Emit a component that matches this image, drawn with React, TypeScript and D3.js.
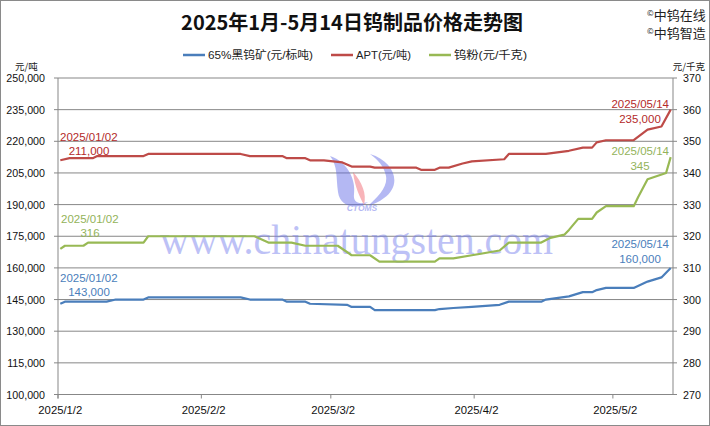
import React from "react";
import * as d3 from "d3";

const W = 710;
const H = 426;

const leftTicks = [100000, 115000, 130000, 145000, 160000, 175000, 190000, 205000, 220000, 235000, 250000];
const rightTicks = [270, 280, 290, 300, 310, 320, 330, 340, 350, 360, 370];
const xTickDates = ["2025-01-02", "2025-02-02", "2025-03-02", "2025-04-02", "2025-05-02"];
const xTickLabels = ["2025/1/2", "2025/2/2", "2025/3/2", "2025/4/2", "2025/5/2"];

const aptDates = ["2025-01-02","2025-01-04","2025-01-09","2025-01-10","2025-01-20","2025-01-21","2025-02-10","2025-02-12","2025-02-19","2025-02-20","2025-02-24","2025-02-25","2025-02-28","2025-03-02","2025-03-04","2025-03-06","2025-03-10","2025-03-11","2025-03-20","2025-03-21","2025-03-24","2025-03-25","2025-03-27","2025-03-30","2025-04-01","2025-04-08","2025-04-09","2025-04-17","2025-04-22","2025-04-25","2025-04-27","2025-04-28","2025-04-30","2025-05-06","2025-05-09","2025-05-12","2025-05-14"];
const aptValues = [211000,212000,212000,213000,213000,214000,214000,213000,213000,212000,212000,211000,211000,210500,210000,208000,208000,207500,207500,206500,206500,207500,207500,209500,210500,211500,214000,214000,215500,217000,217000,219500,220500,220500,225500,227000,235000];

const oreDates = ["2025-01-02","2025-01-03","2025-01-12","2025-01-14","2025-01-20","2025-01-21","2025-02-10","2025-02-12","2025-02-19","2025-02-20","2025-02-24","2025-02-25","2025-03-05","2025-03-06","2025-03-10","2025-03-11","2025-03-24","2025-03-25","2025-03-28","2025-04-01","2025-04-07","2025-04-09","2025-04-16","2025-04-17","2025-04-22","2025-04-25","2025-04-27","2025-04-28","2025-04-30","2025-05-06","2025-05-09","2025-05-12","2025-05-14"];
const oreValues = [143000,144000,144000,145000,145000,146000,146000,145000,145000,144000,144000,143000,142500,141500,141500,140000,140000,140500,141000,141500,142500,144000,144000,145000,146500,148500,148500,149500,150500,150500,153500,155500,160000];

const powderDates = ["2025-01-02","2025-01-03","2025-01-07","2025-01-08","2025-01-20","2025-01-21","2025-02-13","2025-02-16","2025-02-21","2025-02-24","2025-03-03","2025-03-06","2025-03-10","2025-03-12","2025-03-24","2025-03-25","2025-03-28","2025-04-01","2025-04-07","2025-04-09","2025-04-16","2025-04-18","2025-04-21","2025-04-22","2025-04-24","2025-04-27","2025-04-28","2025-04-30","2025-05-06","2025-05-07","2025-05-09","2025-05-13","2025-05-14"];
const powderValues = [316,317,317,318,318,320,320,318,318,317,317,314,314,312,312,313,313,314,315.5,318,318,319.5,320.5,322,325.5,325.5,327.5,329.5,329.5,332.5,338,340,345];

const seriesNames = ["65%黑钨矿(元/标吨)", "APT(元/吨)", "钨粉(元/千克)"];
const seriesColors = ["#4a7ebb", "#be4b48", "#98b954"];

const FONT = "'Liberation Sans', 'Noto Sans CJK SC', sans-serif";
const CJK = "'Noto Sans CJK SC', 'Liberation Sans', sans-serif";

const parse = d3.timeParse("%Y-%m-%d");

export default function App() {
  const x0 = 58, x1 = 673, yT = 78, yB = 394.5;
  const xScale = d3.scaleTime().domain([parse("2025-01-02")!, parse("2025-05-15")!]).range([x0, x1]);
  const xc = (s: string) => xScale(d3.timeHour.offset(parse(s)!, 12));
  const yL = d3.scaleLinear().domain([100000, 250000]).range([yB, yT]);
  const yR = d3.scaleLinear().domain([270, 370]).range([yB, yT]);

  const mk = (dates: string[], vals: number[], y: d3.ScaleLinear<number, number>) =>
    d3.line<number>().x((_, i) => xc(dates[i])).y((v) => y(v))(vals) || "";

  const orePath = mk(oreDates, oreValues, yL);
  const aptPath = mk(aptDates, aptValues, yL);
  const powPath = mk(powderDates, powderValues, yR);

  const fmt = d3.format(",");
  const first = 0;
  const lastOre = oreValues.length - 1;
  const lastApt = aptValues.length - 1;
  const lastPow = powderValues.length - 1;
  const fmtDate = (s: string) => s.replace(/-/g, "/");

  const legendLineX = [183, 331, 429];
  const legendTextX = [208, 356, 454];
  const legendTextW = [105, 55, 73];

  return (
    <div style={{ position: "absolute", left: 0, top: 0 }}>
      <svg width={W} height={H} style={{ display: "block" }}>
        <rect x={0} y={0} width={W} height={H} fill="#ffffff" />
        <rect x={0.5} y={0.5} width={W - 1} height={H - 1} fill="none" stroke="#8a8a8a" />

        {/* title */}
        <text x={352} y={30} textAnchor="middle" fontFamily={CJK} fontWeight="bold" fontSize={20} fill="#111">
          2025年1月-5月14日钨制品价格走势图
        </text>
        <text x={647} y={20} fontFamily={CJK} fontSize={13} fill="#222">
          <tspan fontSize={8} dy={-4}>©</tspan><tspan dy={4}>中钨在线</tspan>
        </text>
        <text x={647} y={38} fontFamily={CJK} fontSize={13} fill="#222">
          <tspan fontSize={8} dy={-4}>©</tspan><tspan dy={4}>中钨智造</tspan>
        </text>

        {/* legend */}
        {seriesNames.map((name, i) => (
          <g key={i}>
            <line x1={legendLineX[i]} x2={legendLineX[i] + 22} y1={55} y2={55} stroke={seriesColors[i]} strokeWidth={2.5} />
            <text x={legendTextX[i]} y={59} fontFamily={FONT} fontSize={11} textLength={legendTextW[i]} lengthAdjust="spacingAndGlyphs" fill="#222">{name}</text>
          </g>
        ))}

        {/* units */}
        <text x={15} y={70} fontFamily={CJK} fontSize={9.5} fill="#222">元/吨</text>
        <text x={705} y={70} textAnchor="end" fontFamily={CJK} fontSize={9.5} fill="#222">元/千克</text>

        {/* grid */}
        {leftTicks.map((t) => (
          <line key={t} x1={x0} x2={x1} y1={yL(t)} y2={yL(t)} stroke="#878787" strokeWidth={1} />
        ))}
        {/* left axis */}
        <line x1={x0} x2={x0} y1={yT} y2={yB + 4} stroke="#878787" />
        {leftTicks.map((t) => (
          <g key={"l" + t}>
            <line x1={x0 - 4} x2={x0} y1={yL(t)} y2={yL(t)} stroke="#878787" />
            <text x={45} y={yL(t) + 4} textAnchor="end" fontFamily={FONT} fontSize={10.7} fill="#111">{fmt(t)}</text>
          </g>
        ))}
        {/* right axis */}
        <line x1={x1} x2={x1} y1={yT} y2={yB} stroke="#878787" />
        {rightTicks.map((t) => (
          <g key={"r" + t}>
            <line x1={x1} x2={x1 + 4} y1={yR(t)} y2={yR(t)} stroke="#878787" />
            <text x={683} y={yR(t) + 4} fontFamily={FONT} fontSize={10.7} fill="#111">{t}</text>
          </g>
        ))}
        {/* x axis */}
        {xTickDates.map((d, i) => (
          <g key={d}>
            <line x1={xScale(parse(d)!)} x2={xScale(parse(d)!)} y1={yB} y2={yB + 4} stroke="#878787" />
            <text x={xc(d)} y={414} textAnchor="middle" fontFamily={FONT} fontSize={11.3} fill="#111">{xTickLabels[i]}</text>
          </g>
        ))}

        {/* watermark */}
        <g opacity={0.45}>
          <path d="M330,156 C348,162 356,180 354,194 C353,202 358,205 368,202 C358,210 340,208 338,192 C336,178 338,166 330,156 Z" fill="#5a64e6" />
          <path d="M353,172 C362,182 367,194 364,205 C360,197 355,188 353,172 Z" fill="#f05a66" />
          <path d="M370,154 C396,162 402,186 384,198 C379,202 374,204 368,206 C378,197 388,187 386,176 C384,166 378,160 370,154 Z" fill="#5a64e6" />
          <text x={362} y={211} textAnchor="middle" fontFamily="'Liberation Sans', sans-serif" fontStyle="italic" fontWeight="bold" fontSize={8.5} fill="#5a64e6">CTOMS</text>
        </g>
        <text x={160} y={254} fontFamily="'Liberation Serif', serif" fontSize={42} textLength={393} lengthAdjust="spacingAndGlyphs" fill="#6f78ec" opacity={0.45}>
          www.chinatungsten.com
        </text>

        {/* lines */}
        <path d={orePath} fill="none" stroke={seriesColors[0]} strokeWidth={2.2} strokeLinejoin="round" />
        <path d={aptPath} fill="none" stroke={seriesColors[1]} strokeWidth={2.2} strokeLinejoin="round" />
        <path d={powPath} fill="none" stroke={seriesColors[2]} strokeWidth={2.2} strokeLinejoin="round" />

        {/* annotations */}
        <g fontFamily={FONT} fontSize={11.5}>
          <text x={60} y={141} fill="#b42a2a">{fmtDate(aptDates[first])}</text>
          <text x={89} y={155} textAnchor="middle" fill="#b42a2a">{fmt(aptValues[first])}</text>
          <text x={61} y={223} fill="#93b35a">{fmtDate(powderDates[first])}</text>
          <text x={90} y={237} textAnchor="middle" fill="#93b35a">{powderValues[first]}</text>
          <text x={60} y={282} fill="#4a7ebb">{fmtDate(oreDates[first])}</text>
          <text x={89} y={296} textAnchor="middle" fill="#4a7ebb">{fmt(oreValues[first])}</text>

          <text x={669} y={108} textAnchor="end" fill="#b42a2a">{fmtDate(aptDates[lastApt])}</text>
          <text x={640} y={123} textAnchor="middle" fill="#b42a2a">{fmt(aptValues[lastApt])}</text>
          <text x={669} y={155} textAnchor="end" fill="#93b35a">{fmtDate(powderDates[lastPow])}</text>
          <text x={640} y={170} textAnchor="middle" fill="#93b35a">{powderValues[lastPow]}</text>
          <text x={669} y={248} textAnchor="end" fill="#4a7ebb">{fmtDate(oreDates[lastOre])}</text>
          <text x={640} y={263} textAnchor="middle" fill="#4a7ebb">{fmt(oreValues[lastOre])}</text>
        </g>
      </svg>
    </div>
  );
}
